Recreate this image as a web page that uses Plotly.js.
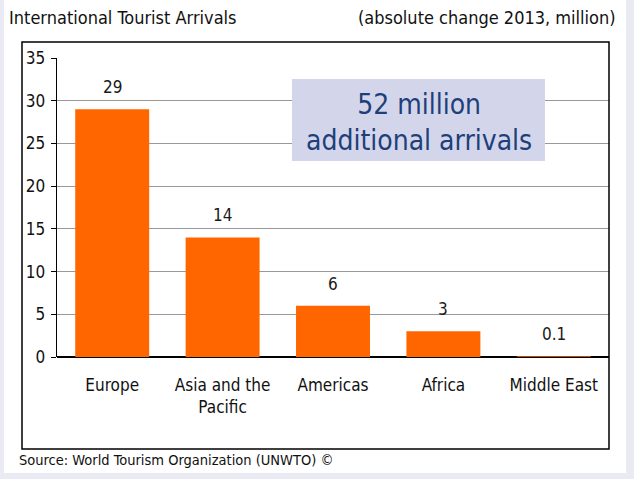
<!DOCTYPE html>
<html><head><meta charset="utf-8">
<script src="https://cdn.plot.ly/plotly-3.0.1.min.js"></script>
<style>
html,body{margin:0;padding:0;background:#EAEAF5;width:634px;height:479px;overflow:hidden}
#chart{position:absolute;left:4px;top:0;width:622px;height:473px}
</style></head><body>
<div id="chart"></div>
<script>
const categories = ["Europe", "Asia and the<br>Pacific", "Americas", "Africa", "Middle East"];
const values = [29, 14, 6, 3, 0.1];
const valueLabels = ["29", "14", "6", "3", "0.1"];
const yTicks = [0, 5, 10, 15, 20, 25, 30, 35];

const FONT = '"Liberation Sans Narrow", "Arial Narrow", "DejaVu Sans Condensed", sans-serif';

const trace = {
  type: 'bar', x: categories, y: values,
  marker: {color: '#FF6600', line: {width: 0}},
  width: 0.67, hoverinfo: 'none'
};

const valueAnnotations = categories.map((c, i) => ({
  xref: 'x', yref: 'y', x: c, y: values[i], text: valueLabels[i],
  showarrow: false, xanchor: 'center', yanchor: 'bottom', yshift: 10,
  font: {family: FONT, size: 17, color: '#1a1a1a'}
}));

const layout = {
  width: 622, height: 473,
  margin: {l: 53, r: 17, t: 58, b: 116},
  paper_bgcolor: '#FFFFFF', plot_bgcolor: '#FFFFFF',
  showlegend: false,
  font: {family: FONT, size: 17, color: '#111'},
  xaxis: {
    type: 'category', showgrid: false, zeroline: false,
    showline: false, ticks: '', tickfont: {family: FONT, size: 17, color: '#111'},
    ticklabelstandoff: 16
  },
  yaxis: {
    range: [0, 35], tickvals: yTicks, ticktext: yTicks.map(String),
    showgrid: true, gridcolor: '#999999', gridwidth: 1,
    zeroline: true, zerolinecolor: '#000', zerolinewidth: 1.3,
    showline: true, linecolor: '#000', linewidth: 1.3,
    ticks: 'outside', ticklen: 5, tickcolor: '#000',
    ticklabelstandoff: 2,
    tickfont: {family: FONT, size: 17, color: '#111'}
  },
  shapes: [
    {type: 'rect', xref: 'paper', yref: 'paper', x0: -0.0634, x1: 1.0, y0: -0.3077, y1: 1.0535,
     line: {color: '#000', width: 1.5}, fillcolor: 'rgba(0,0,0,0)', layer: 'above'},
    {type: 'rect', xref: 'paper', yref: 'paper', x0: (292-57)/552, x1: (545-57)/552,
     y0: (357-161)/299, y1: (357-79)/299, line: {width: 0}, fillcolor: '#D3D6EB', layer: 'above'}
  ],
  annotations: [
    {xref: 'paper', yref: 'paper', x: -0.0906, y: (357-17)/299, xanchor: 'left', yanchor: 'middle',
     text: 'International Tourist Arrivals', showarrow: false, font: {family: FONT, size: 18, color: '#111'}},
    {xref: 'paper', yref: 'paper', x: (618-57)/552, y: (357-17)/299, xanchor: 'right', yanchor: 'middle',
     text: '(absolute change 2013, million)', showarrow: false, font: {family: FONT, size: 18, color: '#111'}},
    {xref: 'paper', yref: 'paper', x: (418.5-57)/552, y: (357-122)/299, xanchor: 'center', yanchor: 'middle',
     text: '52 million<br>additional arrivals', showarrow: false, align: 'center',
     font: {family: FONT, size: 28, color: '#1F3F7A'}},
    {xref: 'paper', yref: 'paper', x: (17-57)/552, y: (357-460)/299, xanchor: 'left', yanchor: 'middle',
     text: 'Source: World Tourism Organization (UNWTO) ©', showarrow: false,
     font: {family: FONT, size: 14.5, color: '#111'}}
  ].concat(valueAnnotations)
};

Plotly.newPlot('chart', [trace], layout, {displayModeBar: false, staticPlot: true});
</script>
</body></html>
